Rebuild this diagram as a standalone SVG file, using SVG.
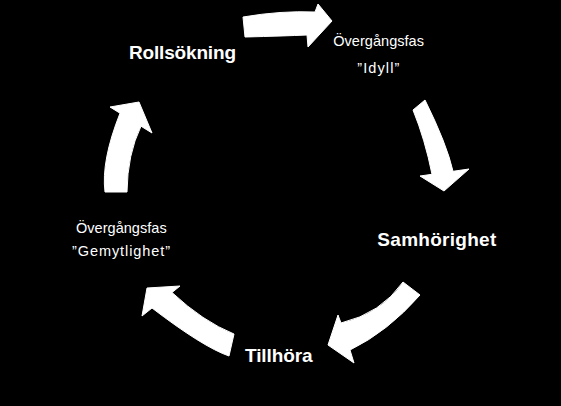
<svg xmlns="http://www.w3.org/2000/svg" width="561" height="406" viewBox="0 0 561 406">
<style>
.arrow{fill:#fff;stroke:#fff;stroke-width:1;stroke-linejoin:round}
.lbl{fill:#fff;font-family:"Liberation Sans",Arial,sans-serif;font-weight:bold;font-size:19px}
.sub{fill:#fff;font-family:"Liberation Sans",Arial,sans-serif;font-size:14.5px;text-anchor:middle}
</style>
<rect width="561" height="406" fill="#000"/>
<g id="connectors">
<path class="arrow" d="M243,17 Q281,10.5 315,12 L318,4 L332,21 L308,47 L307,35 Q284,36 245,37 Z"/>
<path class="arrow" d="M413,110 L425,100 Q447,144.5 453,171.3 L469,169 L444,191 L420,176 L432,174.3 Q425,139.5 413,110 Z"/>
<path class="arrow" d="M403,282 L420,295 Q388,331.5 350,350 L354,363 L328,345 L338,315 L341,323 Q381,313.5 403,282 Z"/>
<path class="arrow" d="M234,334 L229,356 Q203,347 152,308 L142,316 L147,288 L180,286 L172,292.5 Q203,321.5 234,334 Z"/>
<path class="arrow" d="M105,192 L127,192 Q127.4,154.4 141,126.2 L152,133 L139,102 L110,107 L120,113.2 Q101,161 105,192 Z"/>
</g>
<g id="rollsokning"><text class="lbl" x="129" y="59.3" textLength="107">Rollsökning</text></g>
<g id="overgang-idyll"><text class="sub" x="378.6" y="45.7" textLength="90.7">Övergångsfas</text><text class="sub" x="378.3" y="73.3" textLength="42">”Idyll”</text></g>
<g id="samhorighet"><text class="lbl" x="377.3" y="246" textLength="119">Samhörighet</text></g>
<g id="tillhora"><text class="lbl" x="245" y="361.7" textLength="67.7">Tillhöra</text></g>
<g id="overgang-gemytlighet"><text class="sub" x="121.3" y="233.3" textLength="90.7">Övergångsfas</text><text class="sub" x="121" y="255.5" textLength="98">”Gemytlighet”</text></g>
</svg>
